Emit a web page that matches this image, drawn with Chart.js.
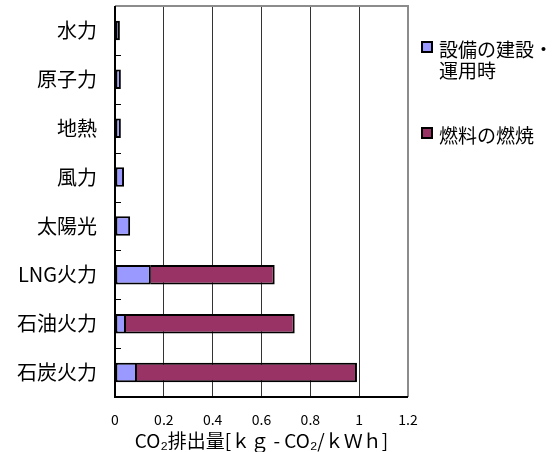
<!DOCTYPE html>
<html>
<head>
<meta charset="utf-8">
<script src="https://cdn.jsdelivr.net/npm/chart.js@4/dist/chart.umd.min.js"></script>
<style>
  html, body { margin: 0; padding: 0; background: #fff; }
  #wrap { position: relative; width: 559px; height: 452px; }
  #chart { display: block; }
  #legend { position: absolute; left: 421px; top: 38px; font-family: "Noto Sans CJK JP", sans-serif; font-size: 19px; line-height: 21px; color: #000; }
  .item { position: absolute; left: 0; white-space: nowrap; }
  .box { position: absolute; left: 0; top: 3px; width: 8px; height: 8px; border: 2px solid #000; }
  .txt { position: absolute; left: 18px; top: 0; }
</style>
</head>
<body>
<div id="wrap">
  <canvas id="chart" width="559" height="452"></canvas>
  <div id="legend">
    <div class="item" style="top:0"><div class="box" style="background:#9999ff"></div><div class="txt">設備の建設・<br>運用時</div></div>
    <div class="item" style="top:86px"><div class="box" style="background:#993366"></div><div class="txt">燃料の燃焼</div></div>
  </div>
</div>
<script>
const categories = ['水力', '原子力', '地熱', '風力', '太陽光', 'LNG火力', '石油火力', '石炭火力'];
const constructionValues = [0.020, 0.024, 0.024, 0.037, 0.062, 0.147, 0.045, 0.090];
const fuelValues = [0, 0, 0, 0, 0, 0.507, 0.691, 0.901];
const xTicks = [0, 0.2, 0.4, 0.6, 0.8, 1, 1.2];

const fontFamily = '"Noto Sans CJK JP", sans-serif';

// inward category ticks and the grey top/right frame
const framePlugin = {
    id: 'frame',
    afterDatasetsDraw(chart) {
        const { ctx, chartArea: a } = chart;
        ctx.save();
        ctx.strokeStyle = '#000';
        ctx.lineWidth = 1;
        const step = (a.bottom - a.top) / categories.length;
        for (let i = 1; i < categories.length; i++) {
            const yy = Math.round(a.top + step * i) + 0.5;
            ctx.beginPath();
            ctx.moveTo(a.left, yy);
            ctx.lineTo(a.left + 6, yy);
            ctx.stroke();
        }
        ctx.strokeStyle = '#8c8c8c';
        ctx.lineWidth = 2;
        ctx.beginPath();
        ctx.moveTo(a.left, a.top);
        ctx.lineTo(a.right, a.top);
        ctx.lineTo(a.right, a.bottom);
        ctx.stroke();
        ctx.strokeStyle = '#000';
        ctx.beginPath();
        ctx.moveTo(a.left, a.top);
        ctx.lineTo(a.left, a.bottom);
        ctx.lineTo(a.right, a.bottom);
        ctx.stroke();
        ctx.restore();
    }
};

new Chart(document.getElementById('chart'), {
    type: 'bar',
    data: {
        labels: categories,
        datasets: [{
            label: '設備の建設・運用時',
            data: constructionValues,
            backgroundColor: '#9999ff',
            borderColor: '#000',
            borderWidth: 2,
            borderSkipped: false
        }, {
            label: '燃料の燃焼',
            data: fuelValues,
            backgroundColor: '#993366',
            borderColor: '#000',
            borderWidth: { top: 2, right: 2, bottom: 2, left: 0 },
            borderSkipped: false
        }]
    },
    options: {
        indexAxis: 'y',
        responsive: false,
        animation: false,
        categoryPercentage: 1,
        barPercentage: 0.4,
        layout: { padding: { left: 17, right: 151, top: 6, bottom: 0 } },
        plugins: {
            legend: { display: false },
            tooltip: { enabled: false }
        },
        scales: {
            x: {
                stacked: true,
                min: 0,
                max: 1.2,
                afterBuildTicks(axis) { axis.ticks = xTicks.map(v => ({ value: v })); },
                afterFit(scale) { scale.height = 55; scale.paddingLeft = 0; scale.paddingRight = 0; },
                grid: { color: '#333', lineWidth: 1, drawTicks: false },
                border: { display: false },
                ticks: {
                    color: '#000',
                    font: { family: fontFamily, size: 14 },
                    padding: 14,
                    callback: v => String(v)
                },
                title: {
                    display: true,
                    text: 'CO₂排出量[ｋｇ - CO₂/ｋＷｈ]',
                    color: '#000',
                    font: { family: fontFamily, size: 19 },
                    padding: { top: 1, bottom: 0 }
                }
            },
            y: {
                stacked: true,
                afterFit(scale) { scale.width = 98; scale.paddingTop = 0; scale.paddingBottom = 0; },
                grid: { display: false, drawTicks: false, tickLength: 0 },
                border: { display: false },
                ticks: {
                    color: '#000',
                    font: { family: fontFamily, size: 20 },
                    padding: 18
                }
            }
        }
    },
    plugins: [framePlugin]
});
</script>
</body>
</html>
